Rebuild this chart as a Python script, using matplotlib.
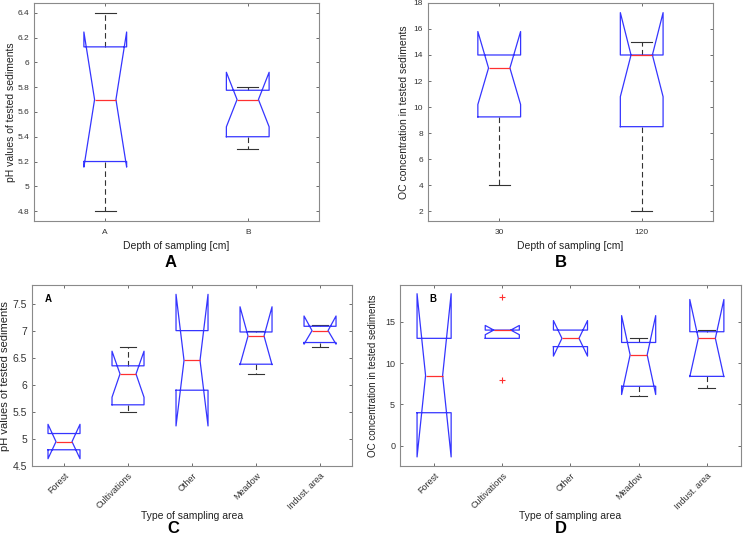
import matplotlib
matplotlib.use("Agg")
import matplotlib.pyplot as plt

plt.rcParams['font.family'] = ['Liberation Sans', 'DejaVu Sans']

# ---- data (q1, median, q3, whiskers, notch limits, outliers)
# panel A: pH by depth
depth_ph_labels = ["A", "B"]
depth_ph_q1 = [5.20, 5.40]
depth_ph_med = [5.70, 5.70]
depth_ph_q3 = [6.125, 5.775]
depth_ph_wlo = [4.80, 5.30]
depth_ph_whi = [6.40, 5.80]
depth_ph_cilo = [5.155, 5.48]
depth_ph_cihi = [6.245, 5.92]

# panel B: OC by depth
depth_oc_labels = ["30", "120"]
depth_oc_q1 = [9.25, 8.5]
depth_oc_med = [13.0, 14.0]
depth_oc_q3 = [14.0, 14.0]
depth_oc_wlo = [4.0, 2.0]
depth_oc_whi = [14.0, 15.0]
depth_oc_cilo = [10.2, 10.8]
depth_oc_cihi = [15.8, 17.25]

# panel C: pH by area type
areas = ["Forest", "Cultivations", "Other", "Meadow", "Indust. area"]
area_ph_q1 = [4.80, 5.63, 5.90, 6.38, 6.78]
area_ph_med = [4.95, 6.20, 6.45, 6.90, 7.00]
area_ph_q3 = [5.10, 6.35, 7.00, 6.975, 7.08]
area_ph_wlo = [4.80, 5.50, 5.90, 6.20, 6.70]
area_ph_whi = [5.10, 6.70, 7.00, 7.00, 7.10]
area_ph_cilo = [4.635, 5.77, 5.24, 6.37, 6.75]
area_ph_cihi = [5.27, 6.62, 7.67, 7.44, 7.27]

# panel D: OC by area type
area_oc_q1 = [4.0, 13.0, 12.0, 7.2, 8.4]
area_oc_med = [8.5, 14.0, 13.0, 11.0, 13.0]
area_oc_q3 = [13.0, 14.0, 14.0, 12.5, 13.8]
area_oc_wlo = [4.0, 13.0, 12.0, 6.0, 7.0]
area_oc_whi = [13.0, 14.0, 14.0, 13.0, 14.0]
area_oc_cilo = [-1.35, 13.44, 10.85, 6.2, 8.35]
area_oc_cihi = [18.4, 14.56, 15.15, 15.75, 17.7]
area_oc_fliers = [[], [18.0, 8.0], [], [], []]


def make_stats(labels, q1, med, q3, wlo, whi, cilo, cihi, fliers=None):
    stats = []
    for i, lab in enumerate(labels):
        stats.append(dict(label=lab, q1=q1[i], med=med[i], q3=q3[i],
                          whislo=wlo[i], whishi=whi[i], cilo=cilo[i], cihi=cihi[i],
                          fliers=fliers[i] if fliers else []))
    return stats


def draw(ax, stats, width, tick_fs):
    res = ax.bxp(stats, widths=width, shownotches=True,
                 boxprops=dict(color='#3535ff', linewidth=0.9, zorder=3),
                 medianprops=dict(color='#ff3030', linewidth=0.9, zorder=4),
                 whiskerprops=dict(color='#333333', linewidth=0.8, linestyle=(0, (5, 3)), zorder=2),
                 capprops=dict(color='#333333', linewidth=0.8, zorder=2),
                 flierprops=dict(marker='+', markeredgecolor='#ff3030', markersize=5, markeredgewidth=0.8))
    # a cap lying on the box edge is hidden behind the box in the original
    for i, s in enumerate(stats):
        if s['whislo'] == s['q1']:
            res['caps'][2 * i].set_visible(False)
        if s['whishi'] == s['q3']:
            res['caps'][2 * i + 1].set_visible(False)
    for s in ax.spines.values():
        s.set_color('#8a8a8a')
        s.set_linewidth(0.8)
    ax.tick_params(direction='in', length=2.5, width=0.6, color='#555555',
                   labelsize=tick_fs, labelcolor='#333333', top=True, right=True)


fig = plt.figure(figsize=(7.46, 5.4), dpi=100)

# A
axA = fig.add_axes([0.0456, 0.5907, 0.382, 0.404])
draw(axA, make_stats(depth_ph_labels, depth_ph_q1, depth_ph_med, depth_ph_q3, depth_ph_wlo,
                     depth_ph_whi, depth_ph_cilo, depth_ph_cihi), 0.3, 6)
axA.set_xlim(0.5, 2.5)
axA.set_ylim(4.72, 6.48)
axA.set_yticks([4.8, 5, 5.2, 5.4, 5.6, 5.8, 6, 6.2, 6.4])
axA.set_yticklabels(["4.8", "5", "5.2", "5.4", "5.6", "5.8", "6", "6.2", "6.4"])
axA.tick_params(axis='x', pad=6)
axA.set_ylabel("pH values of tested sediments", fontsize=7.5, color='#222222', labelpad=1)
axA.set_xlabel("Depth of sampling [cm]", fontsize=7.5, color='#222222', labelpad=3)

# B
axB = fig.add_axes([0.5737, 0.5907, 0.382, 0.404])
draw(axB, make_stats(depth_oc_labels, depth_oc_q1, depth_oc_med, depth_oc_q3, depth_oc_wlo,
                     depth_oc_whi, depth_oc_cilo, depth_oc_cihi), 0.3, 6)
axB.set_xlim(0.5, 2.5)
axB.set_ylim(1.26, 18)
axB.set_yticks(range(2, 19, 2))
axB.tick_params(axis='x', pad=6)
axB.set_ylabel("OC concentration in tested sediments", fontsize=7.5, color='#222222', labelpad=3)
axB.set_xlabel("Depth of sampling [cm]", fontsize=7.5, color='#222222', labelpad=3)

# C
axC = fig.add_axes([0.0429, 0.137, 0.429, 0.335])
draw(axC, make_stats(areas, area_ph_q1, area_ph_med, area_ph_q3, area_ph_wlo,
                     area_ph_whi, area_ph_cilo, area_ph_cihi), 0.5, 7.5)
axC.set_xlim(0.5, 5.5)
axC.set_ylim(4.5, 7.84)
axC.set_yticks([4.5, 5, 5.5, 6, 6.5, 7, 7.5])
axC.set_yticklabels(["4.5", "5", "5.5", "6", "6.5", "7", "7.5"])
axC.tick_params(axis='x', labelsize=6.5)
plt.setp(axC.get_xticklabels(), rotation=45, ha='right', rotation_mode='anchor')
axC.set_ylabel("pH values of tested sediments", fontsize=8, color='#222222', labelpad=2)
axC.set_xlabel("Type of sampling area", fontsize=7.5, color='#222222', labelpad=0)
axC.text(0.04, 0.95, "A", transform=axC.transAxes, fontsize=7, fontweight='bold', va='top')

# D
axD = fig.add_axes([0.5362, 0.137, 0.457, 0.335])
draw(axD, make_stats(areas, area_oc_q1, area_oc_med, area_oc_q3, area_oc_wlo,
                     area_oc_whi, area_oc_cilo, area_oc_cihi, area_oc_fliers), 0.5, 6.5)
axD.set_xlim(0.5, 5.5)
axD.set_ylim(-2.45, 19.44)
axD.set_yticks([0, 5, 10, 15])
plt.setp(axD.get_xticklabels(), rotation=45, ha='right', rotation_mode='anchor')
axD.set_ylabel("OC concentration in tested sediments", fontsize=7, color='#222222', labelpad=5)
axD.set_xlabel("Type of sampling area", fontsize=7.5, color='#222222', labelpad=0)
axD.text(0.085, 0.95, "B", transform=axD.transAxes, fontsize=7, fontweight='bold', va='top')

# panel letters
for x, y, t in [(0.228, 0.513, "A"), (0.752, 0.513, "B"), (0.232, 0.022, "C"), (0.752, 0.022, "D")]:
    fig.text(x, y, t, fontsize=12, fontweight='bold', ha='center', va='center')

fig.savefig("out.png", dpi=100)
